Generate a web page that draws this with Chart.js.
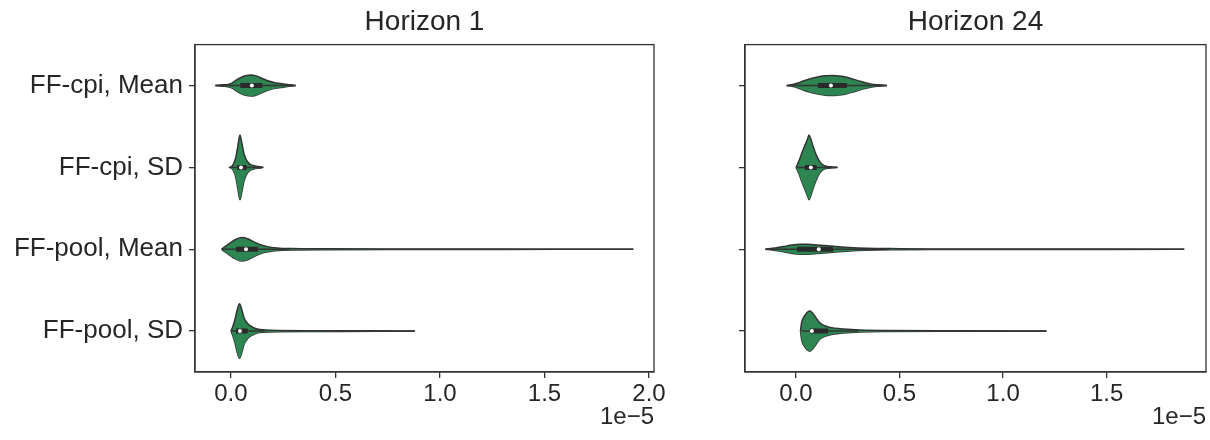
<!DOCTYPE html>
<html>
<head>
<meta charset="utf-8">
<script src="https://cdn.jsdelivr.net/npm/chart.js@4.4.1/dist/chart.umd.min.js"></script>
<style>
html, body { margin: 0; padding: 0; background: #fff; }
.panel { position: absolute; top: 0; height: 440px; }
#wrapH1 { left: 0; width: 672px; }
#wrapH24 { left: 690px; width: 520px; }
</style>
</head>
<body>
<div class="panel" id="wrapH1"><canvas id="chartH1"></canvas></div>
<div class="panel" id="wrapH24"><canvas id="chartH24"></canvas></div>

<script>
// categories (top to bottom)
var categories = ['FF-cpi, Mean', 'FF-cpi, SD', 'FF-pool, Mean', 'FF-pool, SD'];
var xTicksH1 = [0, 0.5, 1.0, 1.5, 2.0];
var xTicksH24 = [0, 0.5, 1.0, 1.5];

// violin outlines: [value in 1e-5, half width in category units]
var h1CpiMean = [[-0.075,0],[-0.04,0.008],[-0.015,0.014],[0.005,0.03],[0.025,0.065],[0.045,0.095],[0.07,0.12],[0.096,0.128],[0.12,0.118],[0.15,0.085],[0.18,0.055],[0.21,0.035],[0.25,0.02],[0.28,0.01],[0.31,0]];
var h1CpiSd = [[-0.01,0],[0.005,0.015],[0.015,0.06],[0.024,0.13],[0.033,0.26],[0.043,0.395],[0.052,0.3],[0.062,0.17],[0.075,0.085],[0.09,0.04],[0.11,0.02],[0.13,0.01],[0.155,0]];
var h1PoolMean = [[-0.045,0],[-0.03,0.03],[-0.01,0.065],[0.015,0.11],[0.05,0.143],[0.08,0.128],[0.11,0.09],[0.14,0.055],[0.17,0.035],[0.22,0.016],[0.29,0.008],[0.45,0.005],[0.8,0.003],[1.3,0.002],[1.925,0]];
var h1PoolSd = [[0.0,0],[0.008,0.05],[0.018,0.13],[0.03,0.26],[0.041,0.334],[0.051,0.27],[0.063,0.16],[0.08,0.09],[0.105,0.045],[0.13,0.022],[0.19,0.01],[0.4,0.005],[0.7,0.003],[0.88,0]];

var h24CpiMean = [[-0.045,0],[-0.015,0.012],[0.01,0.03],[0.035,0.055],[0.065,0.08],[0.1,0.102],[0.14,0.118],[0.175,0.123],[0.21,0.115],[0.245,0.1],[0.28,0.075],[0.31,0.053],[0.36,0.02],[0.4,0.008],[0.44,0]];
var h24CpiSd = [[0.0,0],[0.01,0.05],[0.025,0.15],[0.04,0.25],[0.055,0.34],[0.063,0.395],[0.07,0.36],[0.085,0.24],[0.1,0.14],[0.115,0.07],[0.13,0.03],[0.15,0.012],[0.175,0.005],[0.2,0]];
var h24PoolMean = [[-0.148,0],[-0.1,0.015],[-0.06,0.032],[-0.02,0.052],[0.02,0.062],[0.06,0.06],[0.1,0.053],[0.18,0.037],[0.26,0.021],[0.34,0.012],[0.5,0.007],[0.66,0.004],[1.0,0.003],[1.5,0.002],[1.875,0]];
var h24PoolSd = [[0.022,0],[0.027,0.1],[0.04,0.18],[0.055,0.23],[0.068,0.245],[0.08,0.22],[0.095,0.17],[0.115,0.1],[0.14,0.065],[0.165,0.045],[0.23,0.025],[0.31,0.012],[0.45,0.006],[0.8,0.003],[1.21,0]];

// inner box: [whisker low, q1, median, q3, whisker high]
var h1Box = [[-0.07,0.045,0.1,0.15,0.3],[-0.005,0.03,0.048,0.075,0.15],[-0.04,0.024,0.072,0.13,0.28],[0.0,0.024,0.043,0.08,0.16]];
var h24Box = [[-0.04,0.106,0.169,0.246,0.43],[0.005,0.043,0.072,0.1,0.2],[-0.145,0.005,0.11,0.18,0.45],[0.03,0.068,0.077,0.155,0.3]];

var FILL = '#2d8651';
var EDGE = '#333333';
var FONT = "'Liberation Sans', Arial, sans-serif";

var frame = {
  id: 'frame',
  afterDatasetsDraw: function(chart) {
    var a = chart.chartArea, c = chart.ctx;
    c.save();
    c.strokeStyle = EDGE;
    c.lineWidth = 1.3;
    c.strokeRect(a.left, a.top, a.right - a.left, a.bottom - a.top);
    c.restore();
  }
};

function buildDatasets(violins, boxes) {
  var ds = [];
  for (var i = 0; i < violins.length; i++) {
    var up = [], lo = [];
    for (var k = 0; k < violins[i].length; k++) {
      up.push({ x: violins[i][k][0], y: i - violins[i][k][1] });
      lo.push({ x: violins[i][k][0], y: i + violins[i][k][1] });
    }
    ds.push({ data: up, borderColor: EDGE, borderWidth: 1.5, backgroundColor: FILL, fill: '+1', pointRadius: 0, cubicInterpolationMode: 'monotone', order: 3 });
    ds.push({ data: lo, borderColor: EDGE, borderWidth: 1.5, backgroundColor: FILL, fill: false, pointRadius: 0, cubicInterpolationMode: 'monotone', order: 3 });
  }
  for (var j = 0; j < boxes.length; j++) {
    var b = boxes[j];
    ds.push({ data: [{ x: b[0], y: j }, { x: b[4], y: j }], borderColor: EDGE, borderWidth: 1.5, pointRadius: 0, fill: false, order: 2 });
    ds.push({ data: [{ x: b[1], y: j }, { x: b[3], y: j }], borderColor: '#2a2a2a', borderWidth: 5, borderCapStyle: 'butt', pointRadius: 0, fill: false, order: 1 });
    ds.push({ data: [{ x: b[2], y: j }], showLine: false, pointRadius: 2, pointBackgroundColor: '#ffffff', pointBorderWidth: 0, order: 0 });
  }
  return ds;
}

function makeChart(id, title, violins, boxes, xTicks, xMin, xMax, yWidth, padRight, showLabels) {
  return new Chart(document.getElementById(id), {
    type: 'line',
    data: { datasets: buildDatasets(violins, boxes) },
    options: {
      responsive: true,
      maintainAspectRatio: false,
      animation: false,
      layout: { padding: { top: 0, right: padRight, bottom: 0, left: 0 } },
      plugins: {
        legend: { display: false },
        tooltip: { enabled: false },
        title: { display: true, text: title, fullSize: false, color: '#262626', font: { family: FONT, size: 28, weight: 'normal' }, padding: { top: 5, bottom: 6 } }
      },
      scales: {
        x: {
          type: 'linear', min: xMin, max: xMax,
          afterBuildTicks: function(s) { s.ticks = xTicks.map(function(v) { return { value: v }; }); },
          afterFit: function(s) { s.height = 68; },
          grid: { drawOnChartArea: false, drawTicks: true, tickLength: 6, color: EDGE, lineWidth: 1.3 },
          border: { display: true, color: EDGE, width: 1.3 },
          ticks: { color: '#262626', font: { family: FONT, size: 24 }, padding: 2, maxRotation: 0, callback: function(v) { return v.toFixed(1); } },
          title: { display: true, text: '1e\u22125', align: 'end', color: '#262626', font: { family: FONT, size: 24 }, padding: { top: 0, bottom: 8 } }
        },
        y: {
          type: 'linear', min: -0.5, max: 3.5, reverse: true,
          afterBuildTicks: function(s) { s.ticks = categories.map(function(c, i) { return { value: i }; }); },
          afterFit: function(s) { s.width = yWidth; },
          grid: { drawOnChartArea: false, drawTicks: true, tickLength: 6, color: EDGE, lineWidth: 1.3 },
          border: { display: true, color: EDGE, width: 1.3 },
          ticks: { color: '#262626', font: { family: FONT, size: 26 }, padding: 6, callback: function(v) { return showLabels ? categories[v] : ''; } }
        }
      }
    },
    plugins: [frame]
  });
}

makeChart('chartH1', 'Horizon 1', [h1CpiMean, h1CpiSd, h1PoolMean, h1PoolSd], h1Box, xTicksH1, -0.172, 2.024, 195, 18, true);
makeChart('chartH24', 'Horizon 24', [h24CpiMean, h24CpiSd, h24PoolMean, h24PoolSd], h24Box, xTicksH24, -0.246, 1.98, 55, 4, false);
</script>
</body>
</html>
